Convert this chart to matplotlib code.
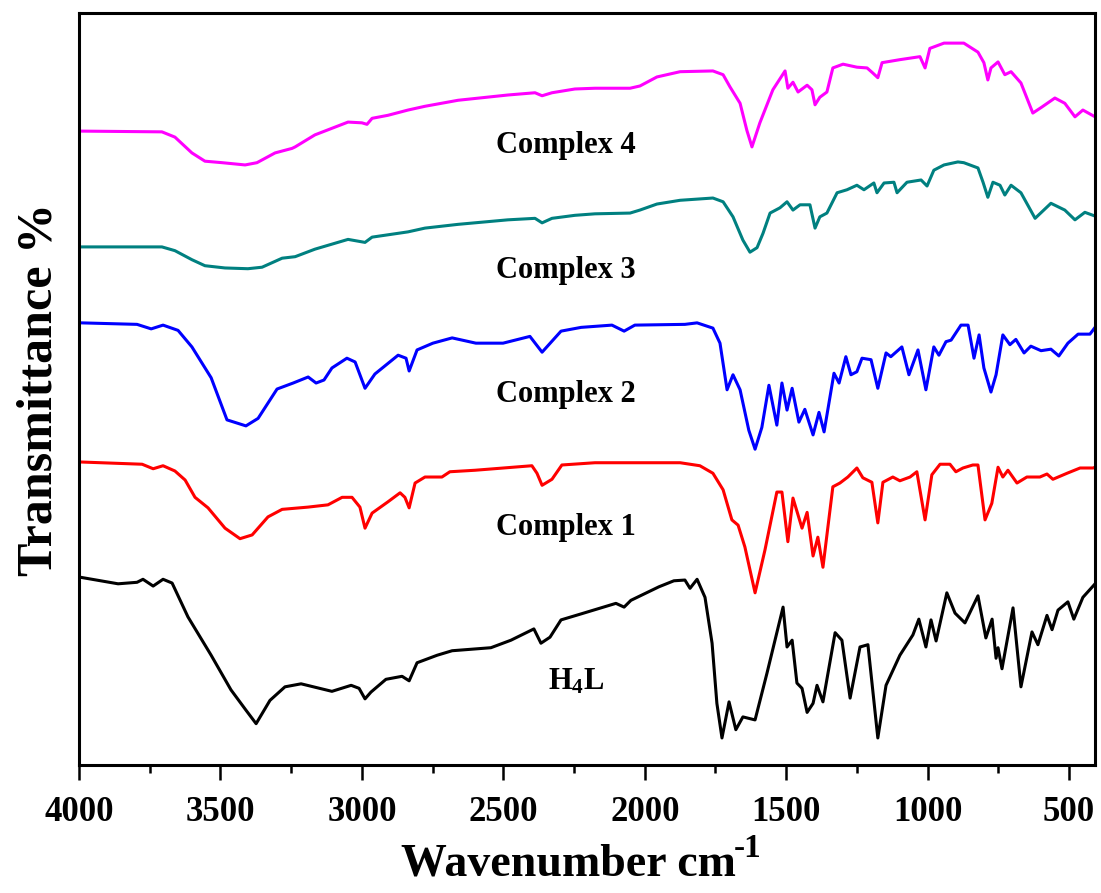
"""FT-IR spectra of H4L and complexes 1-4 (stacked, offset transmittance)."""

import matplotlib
matplotlib.use("Agg")
import matplotlib.pyplot as plt
from matplotlib.ticker import MultipleLocator

plt.rcParams["font.family"] = ["Liberation Serif", "DejaVu Serif"]
plt.rcParams["font.weight"] = "bold"
plt.rcParams["mathtext.fontset"] = "custom"
plt.rcParams["mathtext.rm"] = "Liberation Serif:bold"
plt.rcParams["mathtext.it"] = "Liberation Serif:bold"
plt.rcParams["mathtext.bf"] = "Liberation Serif:bold"

# --- datos (cm-1, transmitancia desplazada en u.a.) ---
wn_h4l = [4000, 3862, 3795, 3774, 3738, 3703, 3671, 3615, 3533, 3463, 3410, 3374, 3325, 3272, 3215,
          3106, 3038, 3010, 2989, 2968, 2915, 2858, 2833, 2805, 2734, 2681, 2544, 2473, 2392, 2367,
          2335, 2296, 2225, 2102, 2073, 2049, 1950, 1897, 1858, 1840, 1815, 1787, 1762, 1745, 1727,
          1702, 1678, 1653, 1610, 1568, 1511, 1497, 1479, 1462, 1444, 1426, 1405, 1391, 1370, 1327,
          1303, 1274, 1239, 1211, 1176, 1147, 1098, 1052, 1031, 1006, 988, 970, 932, 903, 868,
          822, 794, 772, 758, 751, 737, 698, 670, 631, 610, 578, 560, 539, 504, 483,
          451, 415, 408]
t_h4l = [25.0, 24.1, 24.3, 24.7, 23.8, 24.7, 24.2, 19.7, 14.6, 10.0, 7.3, 5.5, 8.6, 10.4, 10.8,
         9.8, 10.6, 10.2, 8.8, 9.7, 11.4, 11.8, 11.2, 13.6, 14.6, 15.2, 15.6, 16.6, 18.1, 16.2,
         17.0, 19.3, 20.1, 21.5, 21.0, 21.9, 23.7, 24.5, 24.6, 23.5, 24.7, 22.3, 16.2, 8.2, 3.6,
         8.4, 4.7, 6.4, 6.0, 12.2, 21.0, 15.7, 16.6, 10.9, 10.2, 7.0, 8.2, 10.6, 8.4, 17.6,
         16.6, 8.9, 15.7, 16.0, 3.6, 10.6, 14.6, 17.3, 19.4, 15.7, 19.3, 16.5, 22.9, 20.2, 18.9,
         22.5, 16.9, 19.4, 14.2, 15.6, 12.8, 20.9, 10.4, 17.7, 16.0, 19.9, 18.0, 20.6, 21.7, 19.4,
         22.3, 23.8, 24.1]

wn_c1 = [3996, 3777, 3738, 3703, 3661, 3625, 3590, 3544, 3484, 3431, 3388, 3332, 3282, 3190, 3120,
         3070, 3035, 3007, 2989, 2964, 2908, 2865, 2848, 2833, 2812, 2777, 2717, 2689, 2600, 2399,
         2381, 2363, 2328, 2293, 2176, 1875, 1805, 1759, 1723, 1692, 1670, 1646, 1610, 1575, 1533,
         1515, 1494, 1476, 1444, 1426, 1405, 1388, 1370, 1335, 1310, 1282, 1250, 1229, 1197, 1176,
         1158, 1123, 1098, 1062, 1038, 1009, 985, 956, 921, 900, 875, 840, 822, 797, 773,
         751, 734, 716, 684, 649, 603, 578, 557, 507, 461, 415, 408]
t_c1 = [40.3, 40.0, 39.4, 39.8, 39.1, 37.9, 35.6, 34.2, 31.5, 30.1, 30.6, 33.0, 34.0, 34.3, 34.6,
        35.6, 35.6, 34.3, 31.5, 33.5, 35.0, 36.2, 35.6, 34.2, 37.5, 38.3, 38.3, 39.0, 39.2, 39.8,
        38.8, 37.2, 38.0, 39.9, 40.2, 40.2, 39.8, 38.8, 36.6, 32.6, 31.9, 29.0, 22.9, 28.6, 36.3,
        36.3, 29.7, 35.5, 31.5, 33.6, 27.8, 30.3, 26.3, 37.0, 37.5, 38.3, 39.5, 38.2, 37.6, 32.2,
        37.6, 38.3, 37.8, 38.3, 39.0, 32.6, 38.6, 40.0, 40.0, 39.0, 39.5, 39.9, 39.9, 32.6, 34.8,
        39.6, 38.3, 39.2, 37.5, 38.3, 38.3, 38.7, 38.0, 38.8, 39.5, 39.5, 39.6]

wn_c2 = [3993, 3795, 3745, 3703, 3650, 3601, 3533, 3477, 3410, 3367, 3300, 3243, 3190, 3162, 3134,
         3106, 3053, 3024, 2989, 2954, 2872, 2844, 2833, 2805, 2749, 2681, 2597, 2501, 2406, 2363,
         2296, 2225, 2116, 2073, 2035, 1858, 1815, 1759, 1734, 1709, 1688, 1663, 1632, 1610, 1586,
         1561, 1533, 1515, 1497, 1479, 1455, 1434, 1405, 1384, 1366, 1331, 1313, 1289, 1271, 1250,
         1232, 1200, 1176, 1147, 1130, 1091, 1066, 1034, 1006, 978, 960, 935, 917, 882, 857,
         836, 818, 801, 776, 758, 734, 709, 688, 659, 635, 599, 564, 536, 504, 468,
         426, 408]
t_c2 = [58.8, 58.6, 58.0, 58.5, 57.8, 55.6, 51.5, 45.9, 45.1, 46.1, 50.0, 50.8, 51.6, 50.8, 51.2,
        52.8, 54.1, 53.6, 50.1, 52.0, 54.5, 54.1, 52.4, 55.2, 56.1, 56.8, 56.1, 56.1, 57.0, 54.9,
        57.7, 58.2, 58.5, 57.7, 58.5, 58.6, 58.8, 58.1, 56.1, 49.9, 51.9, 49.9, 44.5, 42.0, 44.9,
        50.5, 45.2, 50.8, 47.2, 50.1, 45.6, 47.3, 43.9, 46.9, 44.3, 52.1, 50.8, 54.3, 51.9, 52.3,
        54.1, 53.9, 50.1, 54.8, 54.3, 55.6, 51.9, 55.2, 49.9, 55.6, 54.5, 56.3, 56.5, 58.5, 58.5,
        54.1, 57.2, 52.8, 49.6, 51.9, 57.2, 55.9, 56.6, 54.8, 55.7, 55.1, 55.3, 54.4, 56.1, 57.3,
        57.3, 58.2]

wn_c3 = [3996, 3707, 3661, 3601, 3555, 3484, 3403, 3353, 3282, 3236, 3166, 3049, 2989, 2964, 2837,
         2777, 2660, 2484, 2388, 2363, 2328, 2247, 2176, 2052, 2017, 1957, 1875, 1759, 1723, 1688,
         1653, 1628, 1603, 1582, 1557, 1522, 1497, 1476, 1451, 1416, 1398, 1381, 1356, 1320, 1285,
         1250, 1225, 1190, 1179, 1154, 1119, 1108, 1073, 1023, 1002, 978, 942, 893, 872, 822,
         804, 787, 769, 744, 727, 705, 670, 620, 564, 515, 479, 444, 408]
t_c3 = [68.9, 68.9, 68.4, 67.2, 66.4, 66.1, 66.0, 66.2, 67.4, 67.6, 68.6, 69.9, 69.5, 70.2, 70.9,
        71.4, 71.9, 72.5, 72.7, 72.1, 72.7, 73.1, 73.3, 73.4, 73.8, 74.6, 75.1, 75.4, 74.9, 72.9,
        69.8, 68.2, 68.8, 70.7, 73.4, 74.1, 74.9, 73.8, 74.5, 74.5, 71.4, 72.9, 73.4, 76.1, 76.5,
        77.1, 76.5, 77.4, 76.1, 77.4, 77.5, 76.1, 77.5, 77.8, 77.0, 79.1, 79.8, 80.2, 80.1, 79.4,
        77.5, 75.5, 77.5, 77.1, 75.8, 77.1, 76.1, 72.7, 74.7, 73.8, 72.5, 73.5, 73.0]

wn_c4 = [3996, 3707, 3661, 3601, 3555, 3494, 3413, 3371, 3307, 3247, 3236, 3166, 3049, 3000, 2982,
         2964, 2908, 2837, 2777, 2660, 2484, 2388, 2363, 2328, 2247, 2176, 2052, 2017, 1957, 1875,
         1759, 1723, 1699, 1663, 1639, 1621, 1593, 1547, 1504, 1494, 1476, 1458, 1426, 1409, 1398,
         1381, 1356, 1335, 1299, 1250, 1214, 1193, 1176, 1161, 1098, 1027, 1009, 992, 942, 872,
         822, 801, 787, 776, 751, 727, 705, 670, 628, 596, 550, 515, 479, 451, 408]
t_c4 = [84.3, 84.2, 83.5, 81.4, 80.3, 80.1, 79.8, 80.1, 81.4, 82.0, 82.2, 83.8, 85.5, 85.4, 85.2,
        86.0, 86.4, 87.1, 87.6, 88.4, 89.1, 89.4, 89.0, 89.4, 89.9, 90.0, 90.0, 90.3, 91.5, 92.2,
        92.3, 91.8, 90.2, 88.0, 84.4, 82.2, 85.4, 89.8, 92.3, 90.0, 90.8, 89.5, 90.4, 89.8, 87.8,
        88.8, 89.5, 92.7, 93.2, 92.8, 92.7, 92.0, 91.4, 93.4, 93.8, 94.2, 92.7, 95.3, 96.0, 96.0,
        94.8, 93.4, 91.1, 92.7, 93.5, 91.8, 92.2, 90.7, 86.7, 87.5, 88.7, 88.0, 86.2, 87.1, 86.2]

nombres = ["H$_4$L", "Complex 1", "Complex 2", "Complex 3", "Complex 4"]
colores = ["#000000", "#FF0000", "#0000FF", "#008080", "#FF00FF"]

fig = plt.figure(figsize=(11.01, 8.93), dpi=100)
ax = fig.add_axes([0.0718, 0.1433, 0.9228, 0.8421])

espectros = [(wn_h4l, t_h4l), (wn_c1, t_c1), (wn_c2, t_c2), (wn_c3, t_c3), (wn_c4, t_c4)]
for (x, y), color in zip(espectros, colores):
    ax.plot(x, y, color=color, lw=2.2, solid_joinstyle="round", solid_capstyle="round")

# etiquetas de cada curva
etiquetas_pos = [(2342, 10.0), (2526, 30.6), (2526, 48.3), (2526, 64.8), (2526, 81.4)]
for nombre, (xt, yt) in zip(nombres, etiquetas_pos):
    ax.text(xt, yt, nombre, fontsize=22, fontweight="bold", ha="left", va="baseline")

ax.set_xlim(4000, 408)
ax.set_ylim(0, 100)
ax.set_yticks([])
ax.xaxis.set_major_locator(MultipleLocator(500))
ax.xaxis.set_minor_locator(MultipleLocator(250))
ax.tick_params(axis="x", which="major", direction="out", length=11, width=1.8,
               labelsize=25, pad=11)
ax.tick_params(axis="x", which="minor", direction="out", length=5.5, width=1.8)
for s in ax.spines.values():
    s.set_linewidth(2.2)

# título del eje x: "cm" + superíndice "-1" grande (como en el original)
ax.set_xlabel("Wavenumber cm", fontsize=33, fontweight="bold")
ax.xaxis.set_label_coords(0.482, -0.105)
ax.annotate("-1", xy=(1, 0.5), xycoords=ax.xaxis.label, xytext=(-1.5, 5.5),
            textcoords="offset points", ha="left", va="baseline",
            fontsize=24, fontweight="bold", annotation_clip=False)
ax.set_ylabel("Transmittance %", fontsize=36, fontweight="bold", labelpad=12)

fig.savefig("out.png", dpi=100)
